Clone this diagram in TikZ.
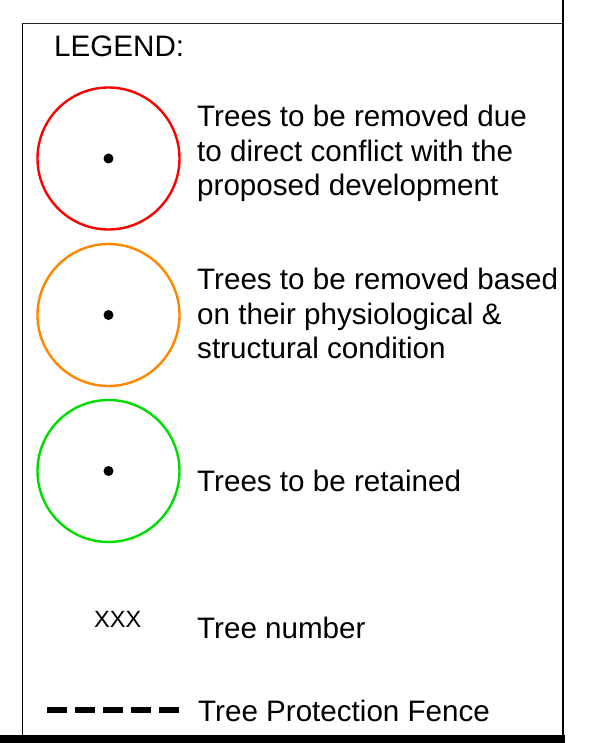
\documentclass[tikz,border=0pt]{standalone}
\usepackage{fontspec}
\setmainfont{Liberation Sans}
\definecolor{treered}{RGB}{255,0,0}
\definecolor{treeorange}{RGB}{255,135,0}
\definecolor{treegreen}{RGB}{0,220,0}
\begin{document}
\begin{tikzpicture}[x=1pt,y=-1pt,
  lbl/.style={anchor=base west,inner sep=0pt,font=\fontsize{29.6}{34.5}\selectfont},
  smalllbl/.style={anchor=base west,inner sep=0pt,font=\fontsize{23.5}{28}\selectfont},
  treering/.style={line width=2.4pt},
  treedot/.style={fill=black,draw=none}]
\useasboundingbox (0,0) rectangle (605,743);
% frame
\draw[line width=1pt,black!85] (22,24) -- (563,24);
\draw[line width=1pt] (22,24) -- (22,736);
\draw[line width=2pt] (563,0) -- (563,743);
\fill[black] (0,735) rectangle (565,743);
% legend title
\node[lbl] (title) at (54,57) {LEGEND:};
% red
\draw[treering,treered] (108.5,158.5) circle (71);
\fill[treedot] (108.5,158.5) circle (5);
\node[lbl] (r1) at (197,127) {Trees to be removed due};
\node[lbl] (r2) at (197,162) {to direct conflict with the};
\node[lbl] (r3) at (197,196) {proposed development};
% orange
\draw[treering,treeorange] (108.5,315) circle (71);
\fill[treedot] (108.5,315) circle (5);
\node[lbl] (o1) at (197,289) {Trees to be removed based};
\node[lbl] (o2) at (197,324) {on their physiological \&};
\node[lbl] (o3) at (197,358) {structural condition};
% green
\draw[treering,treegreen] (108.5,471) circle (71);
\fill[treedot] (108.5,471) circle (5);
\node[lbl] (g1) at (197,491) {Trees to be retained};
% tree number
\node[smalllbl] (xxx) at (94,627) {XXX};
\node[lbl] (tn) at (197,638) {Tree number};
% fence
\coordinate (fa) at (47,710);
\coordinate (fb) at (179,710);
\draw[line width=6.5pt,dash pattern=on 20pt off 8pt] (fa) -- (fb);
\node[lbl] (tpf) at (198,721) {Tree Protection Fence};
\end{tikzpicture}
\end{document}
